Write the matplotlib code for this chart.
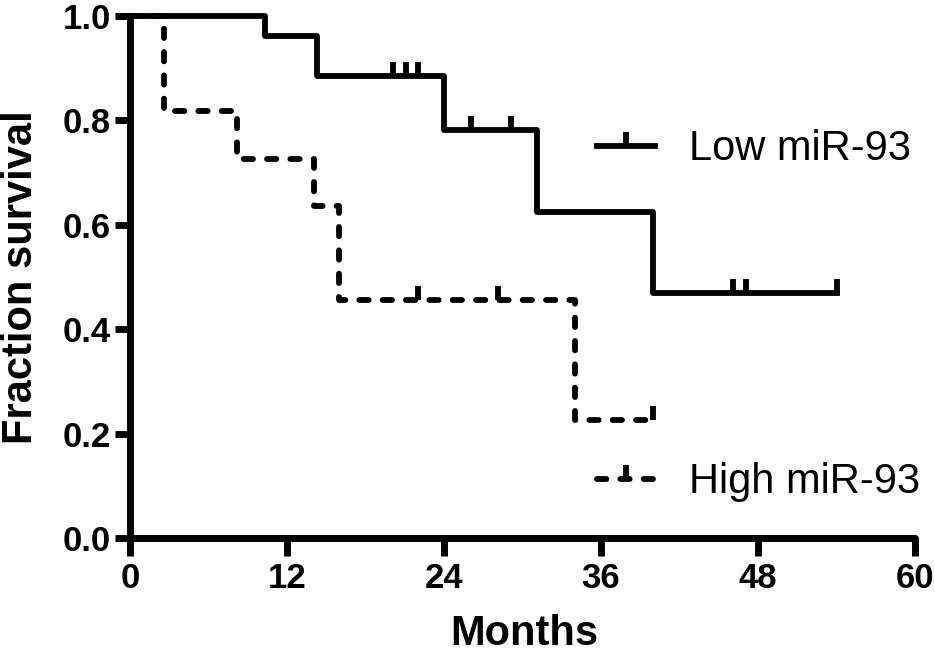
import numpy as np
import matplotlib
matplotlib.use("Agg")
import matplotlib.pyplot as plt

# Kaplan-Meier data (months, fraction surviving)
low_time = [0, 10.3, 14.3, 24.0, 31.1, 40.0, 54.0]
low_surv = [1.0, 0.962, 0.885, 0.782, 0.625, 0.469, 0.469]
low_cens = [20.1, 21.1, 22.0, 26.1, 29.1, 46.1, 47.1, 54.0]

high_time = [0, 2.6, 8.2, 14.1, 16.0, 34.0, 40.0]
high_surv = [1.0, 0.818, 0.727, 0.636, 0.455, 0.227, 0.227]
high_cens = [22.0, 28.1, 40.0]

x_ticks = [0, 12, 24, 36, 48, 60]
y_ticks = [0.0, 0.2, 0.4, 0.6, 0.8, 1.0]


def step_value(times, surv, t):
    idx = np.searchsorted(times, t, side="right") - 1
    return np.array(surv)[idx]


sans = ["Liberation Sans", "DejaVu Sans"]

fig = plt.figure(figsize=(9.35, 6.54), dpi=100)
ax = fig.add_axes([130 / 935, 116 / 654, 785 / 935, 522 / 654])

lw = 4.2
sw = 5.0
dash = (1.6, 2.4)
ms = 10

ax.plot(low_time, low_surv, drawstyle="steps-post", color="black",
        lw=lw, solid_joinstyle="round", clip_on=False, zorder=3)
ax.plot(low_cens, step_value(low_time, low_surv, low_cens), ls="none",
        marker=2, ms=ms, mew=lw, color="black", clip_on=False, zorder=3)

ax.plot(high_time, high_surv, drawstyle="steps-post", color="black",
        lw=lw, dashes=dash, dash_capstyle="round", clip_on=False, zorder=2)
ax.plot(high_cens, step_value(high_time, high_surv, high_cens), ls="none",
        marker=2, ms=ms, mew=lw, color="black", clip_on=False, zorder=2)

ax.set_xlim(0, 60)
ax.set_ylim(0, 1.0)
ax.set_xticks(x_ticks)
ax.set_yticks(y_ticks)
ax.set_xticklabels([str(v) for v in x_ticks], family=sans, weight="bold",
                   fontsize=25)
ax.set_yticklabels([f"{v:.1f}" for v in y_ticks], family=sans,
                   weight="bold", fontsize=25)
ax.tick_params(axis="x", length=13, width=sw, direction="out", pad=4)
ax.tick_params(axis="y", length=11, width=sw, direction="out", pad=3)

for s in ["top", "right"]:
    ax.spines[s].set_visible(False)
for s in ["left", "bottom"]:
    ax.spines[s].set_linewidth(sw)
    ax.spines[s].set_capstyle("round")

ax.set_xlabel("Months", family=sans, weight="bold", fontsize=30)
ax.set_ylabel("Fraction survival", family=sans, weight="bold", fontsize=30)
ax.xaxis.set_label_coords(0.502, -0.146)
ax.yaxis.set_label_coords(-0.113, 0.5)

# legend entries (GraphPad style: line with censor tick)
h_low = plt.Line2D([], [], color="black", lw=lw, marker=2, ms=ms, mew=lw)
h_high = plt.Line2D([], [], color="black", lw=lw, dashes=dash,
                    dash_capstyle="round", marker=2, ms=ms, mew=lw)
leg_kw = dict(loc="center left", frameon=False, borderpad=0,
              borderaxespad=0, prop={"family": sans, "size": 30},
              handlelength=1.4, handletextpad=0.8)
leg1 = ax.legend([h_low], ["Low miR-93"], bbox_to_anchor=(0.595, 0.745),
                 **leg_kw)
ax.add_artist(leg1)
ax.legend([h_high], ["High miR-93"], bbox_to_anchor=(0.595, 0.107), **leg_kw)

fig.savefig("out.png", dpi=100)
